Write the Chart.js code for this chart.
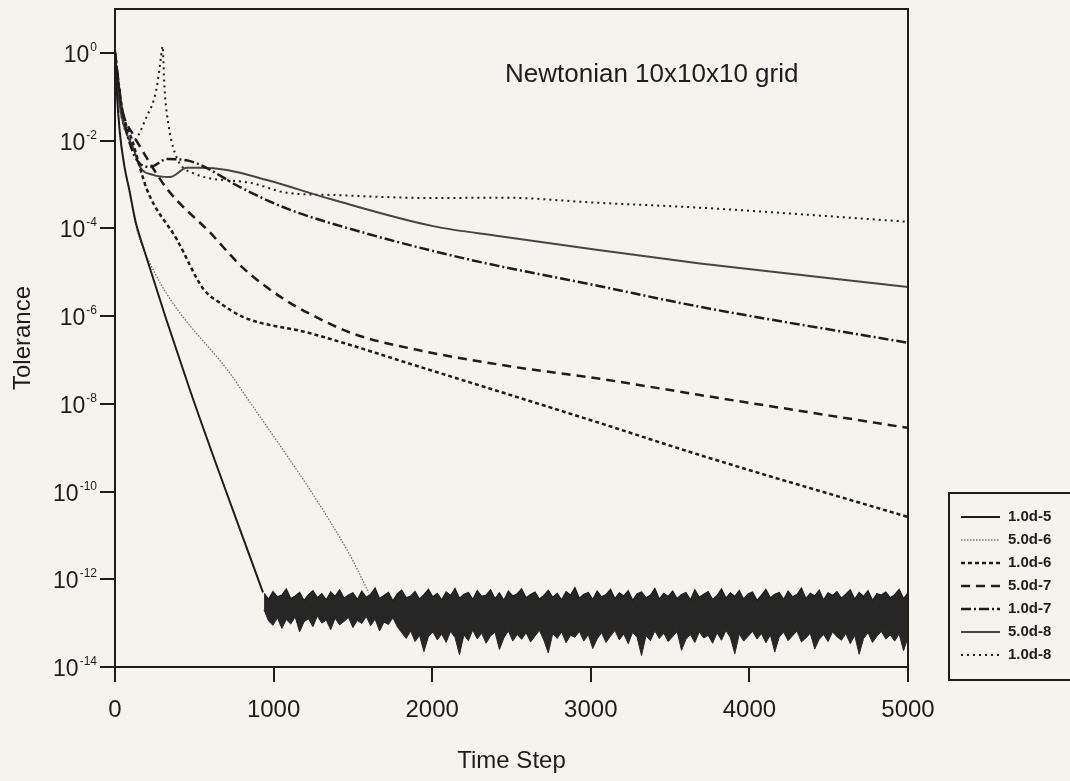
<!DOCTYPE html>
<html>
<head>
<meta charset="utf-8">
<script src="https://cdn.jsdelivr.net/npm/chart.js@4.4.0/dist/chart.umd.min.js"></script>
<style>
  html, body { margin: 0; padding: 0; background: #f6f3ee; }
  #wrap { width: 1070px; height: 781px; position: relative; }
</style>
</head>
<body>
<div id="wrap"><canvas id="tolChart"></canvas></div>
<script>
// legend labels (solver tolerance)
var tolLabels = ['1.0d-5', '5.0d-6', '1.0d-6', '5.0d-7', '1.0d-7', '5.0d-8', '1.0d-8'];

// each curve: time steps and log10(tolerance)
var steps_1e5 = [0, 10, 30, 60, 90, 130, 177, 473, 933];
var exp_1e5   = [0.1, -0.8, -1.8, -2.6, -3.12, -3.85, -4.42, -7.69, -12.3];

var steps_5e6 = [0, 10, 30, 60, 90, 130, 177, 769, 1463, 1600];
var exp_5e6   = [0.1, -0.8, -1.8, -2.6, -3.12, -3.9, -4.45, -7.53, -11.33, -12.3];

var steps_1e6 = [0, 40, 113, 202, 391, 555, 662, 807, 1229, 1986, 3058, 3689, 5000];
var exp_1e6   = [0, -1.2, -2.05, -3.12, -4.26, -5.37, -5.7, -6.02, -6.39, -7.23, -8.44, -9.17, -10.58];

var steps_5e7 = [0, 40, 120, 158, 328, 600, 807, 1059, 1229, 1500, 1904, 2500, 3058, 3689, 5000];
var exp_5e7   = [0, -1.2, -1.9, -2.14, -3.1, -4.1, -4.9, -5.6, -5.95, -6.4, -6.77, -7.15, -7.43, -7.8, -8.55];

var steps_1e7 = [0, 50, 150, 220, 330, 450, 536, 788, 1084, 1589, 2219, 3058, 3689, 5000];
var exp_1e7   = [0, -1.4, -2.5, -2.6, -2.42, -2.45, -2.55, -3.06, -3.55, -4.12, -4.7, -5.32, -5.79, -6.61];

var steps_5e8 = [0, 30, 80, 113, 158, 240, 347, 454, 536, 706, 958, 1375, 2005, 2427, 3058, 3689, 5000];
var exp_5e8   = [0, -1.2, -1.9, -2.15, -2.6, -2.78, -2.83, -2.62, -2.62, -2.67, -2.9, -3.35, -3.95, -4.18, -4.5, -4.8, -5.34];

var steps_1e8 = [0, 50, 113, 200, 260, 290, 300, 312, 340, 391, 492, 851, 1084, 1375, 2005, 2427, 3058, 3689, 5000];
var exp_1e8   = [-0.5, -1.6, -2.0, -1.45, -0.85, -0.1, 0.15, -0.8, -1.7, -2.4, -2.74, -2.96, -3.19, -3.24, -3.31, -3.3, -3.42, -3.53, -3.85];

// round-off noise floor reached by 1.0d-5 and 5.0d-6 (log10 of top / bottom edge of the band)
var noiseStart = 940, noiseStep = 28;
var noiseTop = [
  -12.32,-12.45,-12.28,-12.40,-12.36,-12.22,-12.44,-12.38,-12.30,-12.48,
  -12.35,-12.26,-12.42,-12.33,-12.47,-12.29,-12.39,-12.24,-12.43,-12.36,
  -12.31,-12.46,-12.27,-12.41,-12.34,-12.20,-12.44,-12.37,-12.30,-12.49,
  -12.33,-12.25,-12.42,-12.38,-12.28,-12.45,-12.35,-12.23,-12.40,-12.32,
  -12.47,-12.29,-12.37,-12.21,-12.43,-12.34,-12.30,-12.46,-12.26,-12.39,
  -12.36,-12.24,-12.44,-12.31,-12.48,-12.27,-12.38,-12.33,-12.22,-12.42,
  -12.35,-12.29,-12.45,-12.37,-12.25,-12.41,-12.32,-12.47,-12.28,-12.36,
  -12.19,-12.43,-12.34,-12.30,-12.46,-12.27,-12.40,-12.35,-12.23,-12.44,
  -12.31,-12.38,-12.26,-12.48,-12.33,-12.29,-12.42,-12.36,-12.21,-12.45,
  -12.32,-12.39,-12.27,-12.44,-12.35,-12.30,-12.47,-12.24,-12.41,-12.34,
  -12.28,-12.46,-12.37,-12.22,-12.43,-12.31,-12.39,-12.26,-12.45,-12.33,
  -12.29,-12.48,-12.36,-12.23,-12.42,-12.34,-12.30,-12.46,-12.27,-12.40,
  -12.35,-12.20,-12.44,-12.32,-12.38,-12.25,-12.47,-12.31,-12.37,-12.28,
  -12.43,-12.34,-12.24,-12.45,-12.30,-12.39,-12.26,-12.48,-12.33,-12.36,
  -12.29,-12.42,-12.35,-12.23,-12.44,-12.31
];
var noiseBottom = [
  -12.70,-12.95,-13.05,-12.88,-13.12,-12.92,-13.02,-12.86,-13.20,-12.97,
  -12.90,-13.08,-12.84,-13.00,-12.93,-13.15,-12.89,-13.04,-12.96,-12.87,
  -13.10,-12.94,-13.01,-12.85,-13.06,-12.91,-13.18,-12.98,-13.03,-12.88,
  -13.08,-13.22,-13.35,-13.18,-13.42,-13.28,-13.65,-13.31,-13.20,-13.38,
  -13.25,-13.44,-13.19,-13.33,-13.72,-13.27,-13.40,-13.16,-13.36,-13.23,
  -13.46,-13.29,-13.21,-13.60,-13.34,-13.18,-13.41,-13.26,-13.37,-13.22,
  -13.43,-13.30,-13.17,-13.39,-13.68,-13.24,-13.35,-13.20,-13.45,-13.28,
  -13.32,-13.19,-13.41,-13.26,-13.58,-13.36,-13.22,-13.44,-13.30,-13.17,
  -13.38,-13.25,-13.47,-13.21,-13.33,-13.74,-13.29,-13.40,-13.18,-13.35,
  -13.23,-13.42,-13.31,-13.19,-13.62,-13.37,-13.26,-13.44,-13.20,-13.34,
  -13.28,-13.46,-13.22,-13.39,-13.17,-13.33,-13.70,-13.25,-13.41,-13.30,
  -13.19,-13.36,-13.24,-13.45,-13.27,-13.66,-13.32,-13.21,-13.40,-13.29,
  -13.18,-13.43,-13.34,-13.23,-13.59,-13.37,-13.26,-13.42,-13.20,-13.31,
  -13.39,-13.24,-13.47,-13.28,-13.71,-13.35,-13.22,-13.44,-13.30,-13.19,
  -13.36,-13.27,-13.41,-13.25,-13.63,-13.33
];

var xTicks = [0, 1000, 2000, 3000, 4000, 5000];
var yTickPowers = [0, -2, -4, -6, -8, -10, -12, -14];

var ink = '#1d1d1d';
var fontFamily = '"Liberation Sans", Arial, Helvetica, sans-serif';

function toPoints(steps, exps) {
    var pts = [];
    for (var i = 0; i < steps.length; i++) {
        pts.push({x: steps[i], y: Math.pow(10, exps[i])});
    }
    return pts;
}

function noisePoints(exps) {
    var pts = [];
    for (var i = 0; i < exps.length; i++) {
        pts.push({x: noiseStart + i * noiseStep, y: Math.pow(10, exps[i])});
    }
    return pts;
}

function curve(label, steps, exps, color, width, dash) {
    return {
        label: label,
        data: toPoints(steps, exps),
        borderColor: color,
        borderWidth: width,
        borderDash: dash,
        fill: false,
        pointRadius: 0,
        cubicInterpolationMode: 'monotone'
    };
}

var datasets = [
    curve(tolLabels[0], steps_1e5, exp_1e5, ink, 2, []),
    curve(tolLabels[1], steps_5e6, exp_5e6, '#6e6e6e', 1.3, [1.5, 1.5]),
    curve(tolLabels[2], steps_1e6, exp_1e6, ink, 2.5, [4, 3]),
    curve(tolLabels[3], steps_5e7, exp_5e7, ink, 2.5, [9, 6]),
    curve(tolLabels[4], steps_1e7, exp_1e7, ink, 2.5, [10, 3, 2, 3]),
    curve(tolLabels[5], steps_5e8, exp_5e8, '#454545', 2, []),
    curve(tolLabels[6], steps_1e8, exp_1e8, ink, 2, [2, 4]),
    {
        label: 'noise top',
        data: noisePoints(noiseTop),
        borderColor: ink,
        borderWidth: 1.2,
        backgroundColor: '#262626',
        fill: '+1',
        pointRadius: 0,
        tension: 0
    },
    {
        label: 'noise bottom',
        data: noisePoints(noiseBottom),
        borderColor: '#2a2a2a',
        borderWidth: 1,
        fill: false,
        pointRadius: 0,
        tension: 0
    }
];

// top and right edges of the plot frame
var framePlugin = {
    id: 'frame',
    afterDraw: function(chart) {
        var a = chart.chartArea, ctx = chart.ctx;
        ctx.save();
        ctx.strokeStyle = ink;
        ctx.lineWidth = 2;
        ctx.beginPath();
        ctx.moveTo(a.left, a.top);
        ctx.lineTo(a.right, a.top);
        ctx.lineTo(a.right, a.bottom);
        ctx.stroke();
        ctx.restore();
    }
};

// y tick labels as 10 with a raised exponent
var powerLabels = {
    id: 'powerLabels',
    afterDraw: function(chart) {
        var sc = chart.scales.y, ctx = chart.ctx;
        var right = sc.right - 18;
        ctx.save();
        ctx.fillStyle = ink;
        ctx.textAlign = 'right';
        ctx.textBaseline = 'alphabetic';
        yTickPowers.forEach(function(p) {
            var y = sc.getPixelForValue(Math.pow(10, p));
            var sup = p === 0 ? '0' : '-' + Math.abs(p);
            ctx.font = '12px ' + fontFamily;
            var sw = ctx.measureText(sup).width;
            ctx.fillText(sup, right, y - 2);
            ctx.font = '23px ' + fontFamily;
            ctx.fillText('10', right - sw - 1, y + 9);
        });
        ctx.restore();
    }
};

// title inside the plot and the boxed legend on the right
var annotations = {
    id: 'annotations',
    afterDraw: function(chart) {
        var a = chart.chartArea, ctx = chart.ctx;
        ctx.save();
        ctx.fillStyle = ink;
        ctx.font = '26px ' + fontFamily;
        ctx.textAlign = 'left';
        ctx.textBaseline = 'alphabetic';
        ctx.fillText('Newtonian 10x10x10 grid', a.left + 390, a.top + 73);

        var bx = a.right + 41, by = a.bottom - 174;
        ctx.strokeStyle = ink;
        ctx.lineWidth = 2;
        ctx.strokeRect(bx, by, 150, 187);
        ctx.font = 'bold 15px ' + fontFamily;
        ctx.textBaseline = 'middle';
        for (var i = 0; i < tolLabels.length; i++) {
            var ds = chart.data.datasets[i];
            var y = by + 24 + i * 23;
            ctx.strokeStyle = ds.borderColor;
            ctx.lineWidth = ds.borderWidth;
            ctx.setLineDash(ds.borderDash || []);
            ctx.beginPath();
            ctx.moveTo(bx + 12, y);
            ctx.lineTo(bx + 51, y);
            ctx.stroke();
            ctx.setLineDash([]);
            ctx.fillText(tolLabels[i], bx + 59, y);
        }
        ctx.restore();
    }
};

new Chart(document.getElementById('tolChart'), {
    type: 'line',
    data: { datasets: datasets },
    options: {
        responsive: true,
        maintainAspectRatio: false,
        animation: false,
        layout: { padding: { top: 9, right: 162, bottom: 0, left: 0 } },
        plugins: {
            legend: { display: false },
            tooltip: { enabled: false }
        },
        scales: {
            x: {
                type: 'linear',
                min: 0,
                max: 5000,
                afterBuildTicks: function(scale) {
                    scale.ticks = xTicks.map(function(v) { return {value: v}; });
                },
                ticks: {
                    color: ink,
                    font: { size: 24, family: fontFamily },
                    padding: 14,
                    maxRotation: 0,
                    callback: function(value) { return String(value); }
                },
                grid: { drawOnChartArea: false, drawTicks: true, tickLength: 15, color: ink, lineWidth: 2 },
                border: { display: true, color: ink, width: 2 },
                title: { display: true, text: 'Time Step', color: ink, font: { size: 24, family: fontFamily }, padding: { top: 0, bottom: 5 } },
                afterFit: function(scale) { scale.height = 114; }
            },
            y: {
                type: 'logarithmic',
                min: 1e-14,
                max: 10,
                afterBuildTicks: function(scale) {
                    scale.ticks = yTickPowers.map(function(p) { return {value: Math.pow(10, p)}; });
                },
                ticks: { display: false },
                grid: { drawOnChartArea: false, drawTicks: true, tickLength: 15, color: ink, lineWidth: 2 },
                border: { display: true, color: ink, width: 2 },
                title: { display: true, text: 'Tolerance', color: ink, font: { size: 24, family: fontFamily }, padding: { top: 9, bottom: 0 } },
                afterFit: function(scale) { scale.width = 115; }
            }
        }
    },
    plugins: [framePlugin, powerLabels, annotations]
});
</script>
</body>
</html>
